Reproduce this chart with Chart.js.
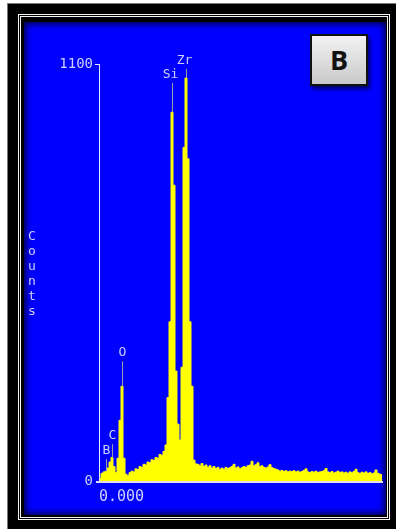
<!DOCTYPE html>
<html>
<head>
<meta charset="utf-8">
<script src="https://cdn.jsdelivr.net/npm/chart.js@4.4.1/dist/chart.umd.min.js"></script>
<style>
  html, body { margin: 0; padding: 0; background: #fff; }
  body { width: 396px; height: 529px; position: relative; overflow: hidden; }
  .outer { position: absolute; left: 7px; top: 3px; width: 388px; height: 526px; background: #000; border-top: 1px solid #777; border-left: 1px solid #777; }
  .frame { position: absolute; left: 18px; top: 14px; width: 366px; height: 500px; border: 3px double #f4f4f4; }
  .panel { position: absolute; left: 24px; top: 22px; width: 362px; height: 493px; background: #0000ff;
           box-shadow: inset 0 0 6px 2px rgba(0,0,0,0.75); }
  .tag { position: absolute; left: 310px; top: 34px; width: 54px; height: 48px; border: 2px solid #111;
         background: linear-gradient(#f2f2f2, #c9c9c9); box-shadow: 2px 3px 4px rgba(0,0,0,0.6);
         font: 700 27px "Open Sans", sans-serif; color: #111; text-align: center; line-height: 48px; }
  canvas { position: absolute; left: 0; top: 0; }
</style>
</head>
<body>
<div class="outer"></div>
<div class="frame"></div>
<div class="panel"></div>
<div class="tag">B</div>
<canvas id="spectrum" width="396" height="529"></canvas>
<script>
// ============================================
// DATA - EDS SPECTRUM (counts per channel)
// ============================================

const channelWidth = 0.048;   // keV per channel

const counts = [
  6, 20, 24, 26, 34, 50, 62, 38, 22, 60,
  160, 250, 60, 18, 14, 22, 26, 24, 32, 30,
  38, 36, 44, 42, 50, 48, 56, 54, 62, 60,
  70, 68, 78, 95, 220, 420, 973, 780, 290, 150,
  108, 300, 880, 1063, 850, 420, 250, 55, 45, 44,
  40, 46, 38, 42, 36, 40, 34, 38, 33, 36,
  30, 34, 31, 36, 33, 35, 38, 44, 34, 37,
  32, 35, 38, 36, 40, 42, 52, 40, 43, 48,
  38, 40, 36, 34, 37, 43, 35, 33, 31, 29,
  26, 28, 25, 27, 24, 26, 25, 27, 24, 26,
  23, 25, 28, 32, 24, 22, 25, 23, 26, 22,
  24, 25, 27, 33, 24, 22, 25, 21, 23, 26,
  22, 24, 21, 23, 20, 24, 22, 25, 31, 22,
  20, 23, 21, 24, 20, 22, 19, 21, 29, 20,
  18, 17
];

const energyLabels = counts.map((_, i) => (i * channelWidth).toFixed(3));

const yTicks   = [0, 1100];
const xTicks   = ['0.000'];
const yTitle   = 'Counts';

// element markers: label, channel of the line, marker top (counts)
const peakNames    = ['B', 'C', 'O', 'Si', 'Zr'];
const peakChannels = [3, 6, 11, 36, 43];
const peakTops     = [66, 105, 324, 1058, 1095];

// ============================================
// DRAWING HELPERS
// ============================================

const textColor = '#cfcfff';
const monoFont  = '"DejaVu Sans Mono", monospace';

const axesPlugin = {
  id: 'edsAxes',
  afterDatasetsDraw(chart) {
    const { ctx, chartArea: a, scales: { x, y } } = chart;
    ctx.save();

    // y axis line + ticks
    const yTop = y.getPixelForValue(yTicks[yTicks.length - 1]);
    const y0   = y.getPixelForValue(yTicks[0]);
    ctx.strokeStyle = '#e8e8ff';
    ctx.lineWidth = 1;
    ctx.beginPath();
    ctx.moveTo(a.left + 0.5, yTop);
    ctx.lineTo(a.left + 0.5, y0);
    ctx.moveTo(a.left - 4, yTop + 0.5);
    ctx.lineTo(a.left + 0.5, yTop + 0.5);
    ctx.stroke();

    // baseline
    ctx.strokeStyle = '#dcdcec';
    ctx.lineWidth = 2;
    ctx.beginPath();
    ctx.moveTo(a.left - 3, y0 + 1);
    ctx.lineTo(a.right, y0 + 1);
    ctx.stroke();

    ctx.fillStyle = textColor;
    ctx.font = '14px ' + monoFont;
    ctx.textAlign = 'right';
    ctx.textBaseline = 'middle';
    yTicks.forEach(v => {
      ctx.fillText(String(v), a.left - 6, y.getPixelForValue(v));
    });

    ctx.textAlign = 'left';
    ctx.font = '15px ' + monoFont;
    xTicks.forEach((lbl, i) => {
      ctx.fillText(lbl, x.getPixelForValue(i) - 1, y0 + 16);
    });

    // vertical axis title, one letter under the other
    ctx.font = '13px ' + monoFont;
    ctx.textAlign = 'center';
    const midY = (yTop + y0) / 2;
    const step = 15;
    [...yTitle].forEach((ch, i) => {
      ctx.fillText(ch, 32, midY + 2 - (yTitle.length - 1) * step / 2 + i * step);
    });

    // element markers
    ctx.font = '13px ' + monoFont;
    ctx.textBaseline = 'bottom';
    peakNames.forEach((name, i) => {
      const ch   = peakChannels[i];
      const px   = Math.round(x.getPixelForValue(ch)) + 0.5;
      const top  = y.getPixelForValue(peakTops[i]);
      const peak = y.getPixelForValue(counts[ch]);
      if (peak > top + 3) {
        ctx.strokeStyle = '#9a9aa8';
        ctx.lineWidth = 1;
        ctx.beginPath();
        ctx.moveTo(px, top + 3);
        ctx.lineTo(px, peak);
        ctx.stroke();
      }
      ctx.fillStyle = textColor;
      ctx.fillText(name, px - (name.length > 1 ? 2 : 0), top + 1);
    });

    ctx.restore();
  }
};

// ============================================
// CHART
// ============================================

new Chart(document.getElementById('spectrum'), {
  type: 'line',
  data: {
    labels: energyLabels,
    datasets: [{
      data: counts,
      borderColor: '#ffff00',
      backgroundColor: '#ffff00',
      borderWidth: 1,
      pointRadius: 0,
      stepped: 'middle',
      fill: 'origin'
    }]
  },
  options: {
    responsive: false,
    animation: false,
    layout: { padding: { left: 99, right: 13, top: 64, bottom: 48 } },
    plugins: { legend: { display: false }, tooltip: { enabled: false } },
    scales: {
      x: { display: false, offset: true },
      y: { display: false, min: 0, max: 1100 }
    }
  },
  plugins: [axesPlugin]
});
</script>
</body>
</html>
